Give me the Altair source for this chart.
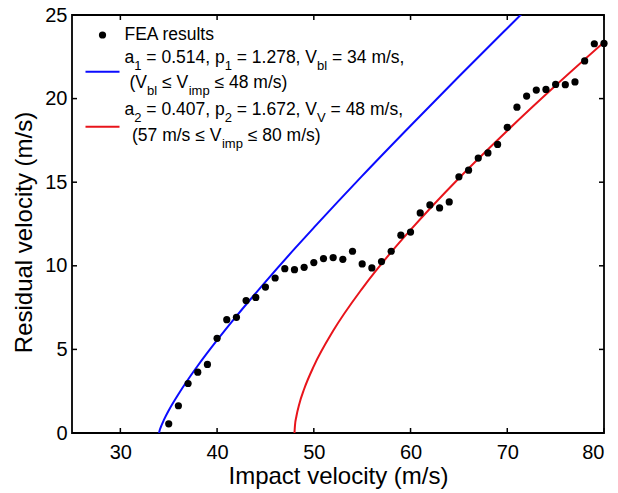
import altair as alt
import pandas as pd

# ---------------- data ----------------
fea_x = [35, 36, 37, 38, 39, 40, 41, 42, 43, 44, 45, 46, 47, 48, 49, 50, 51, 52, 53, 54, 55, 56,
         57, 58, 59, 60, 61, 62, 63, 64, 65, 66, 67, 68, 69, 70, 71, 72, 73, 74, 75, 76, 77, 78, 79, 80]
fea_y = [0.55, 1.63, 2.96, 3.64, 4.10, 5.66, 6.78, 6.92, 7.92, 8.11, 8.73, 9.27, 9.83, 9.77, 9.91,
         10.19, 10.43, 10.49, 10.39, 10.87, 10.11, 9.87, 10.25, 10.87, 11.83, 12.02, 13.16, 13.64,
         13.46, 13.82, 15.32, 15.72, 16.44, 16.75, 17.26, 18.28, 19.49, 20.15, 20.51, 20.55, 20.85,
         20.83, 21.00, 22.25, 23.28, 23.30]

blue_x = [34, 34.05, 34.2, 34.5, 35, 36, 37, 38, 40, 42, 45, 48, 50, 55, 60, 65, 70, 72]
blue_y = [0, 0.13, 0.38, 0.78, 1.35, 2.32, 3.20, 4.02, 5.55, 6.99, 9.04, 11.01, 12.28, 15.38,
          18.38, 21.32, 24.21, 25.36]

red_x = [48, 48.05, 48.2, 48.5, 49, 50, 52, 55, 58, 60, 65, 70, 75, 80]
red_y = [0, 0.44, 1.00, 1.74, 2.63, 4.00, 6.11, 8.64, 10.82, 12.15, 15.24, 18.08, 20.78, 23.37]

x_ticks = [30, 40, 50, 60, 70, 80]
y_ticks = [0, 5, 10, 15, 20, 25]

legend_lines = [
    [("a", 0), ("1", 1), (" = 0.514, p", 0), ("1", 1), (" = 1.278, V", 0), ("bl", 1), (" = 34 m/s,", 0)],
    [("(V", 0), ("bl", 1), (" \u2264 V", 0), ("imp", 1), (" \u2264 48 m/s)", 0)],
    [("a", 0), ("2", 1), (" = 0.407, p", 0), ("2", 1), (" = 1.672, V", 0), ("V", 1), (" = 48 m/s,", 0)],
    [("(57 m/s \u2264 V", 0), ("imp", 1), (" \u2264 80 m/s)", 0)],
]

# ---------------- layout ----------------
W, H = 532, 418
FONT = "Liberation Sans"
BLUE = "#0b0bff"
RED = "#e8141b"
MAIN_FS, SUB_FS, SUB_DY = 17.5, 13, 7

CW = {' ': 278, '(': 333, ')': 333, ',': 278, '.': 278, '/': 278, '=': 584, '\u2264': 584,
      'A': 667, 'E': 667, 'F': 611, 'V': 667, 'a': 556, 'b': 556, 'e': 556, 'i': 222, 'l': 222,
      'm': 833, 'p': 556, 'r': 333, 's': 500, 't': 278, 'u': 556}


def tw(s, fs):
    return sum(CW.get(c, 556) for c in s) * fs / 1000.0


xs = alt.Scale(domain=[25, 80], nice=False, zero=False)
ys = alt.Scale(domain=[0, 25], nice=False, zero=False)

x_axis = alt.Axis(values=x_ticks, title="Impact velocity (m/s)", domain=False, ticks=False, grid=False,
                  labelFont=FONT, labelFontSize=20, labelColor="black", labelPadding=9,
                  titleFont=FONT, titleFontSize=24, titleFontWeight="normal", titleColor="black",
                  titleY=50, titleBaseline="alphabetic")
y_axis = alt.Axis(values=y_ticks, title="Residual velocity (m/s)", domain=False, ticks=False, grid=False,
                  labelFont=FONT, labelFontSize=20, labelColor="black", labelPadding=5,
                  titleFont=FONT, titleFontSize=24, titleFontWeight="normal", titleColor="black",
                  titleX=-41, titleY=217, titleAlign="center", titleBaseline="alphabetic")


def X():
    return alt.X("x:Q", scale=xs, axis=x_axis)


def Y():
    return alt.Y("y:Q", scale=ys, axis=y_axis)


one = alt.Data(values=[{"k": 1}])

blue = alt.Chart(pd.DataFrame({"x": blue_x, "y": blue_y})).mark_line(
    color=BLUE, strokeWidth=2, interpolate="monotone", clip=True).encode(x=X(), y=Y())
red = alt.Chart(pd.DataFrame({"x": red_x, "y": red_y})).mark_line(
    color=RED, strokeWidth=2, interpolate="monotone", clip=True).encode(x=X(), y=Y())
pts = alt.Chart(pd.DataFrame({"x": fea_x, "y": fea_y})).mark_circle(
    size=52, color="black", opacity=1).encode(x=X(), y=Y())

xt = pd.DataFrame({"x": x_ticks})
yt = pd.DataFrame({"y": y_ticks})
tick_style = dict(color="black", strokeWidth=1.5)
ticks = [
    alt.Chart(xt).mark_rule(**tick_style).encode(x=X(), y=alt.value(H), y2=alt.value(H - 5)),
    alt.Chart(xt).mark_rule(**tick_style).encode(x=X(), y=alt.value(0), y2=alt.value(5)),
    alt.Chart(yt).mark_rule(**tick_style).encode(y=Y(), x=alt.value(0), x2=alt.value(5)),
    alt.Chart(yt).mark_rule(**tick_style).encode(y=Y(), x=alt.value(W), x2=alt.value(W - 5)),
]

# ---------------- legend ----------------
legend = []
legend.append(alt.Chart(one).mark_circle(size=52, color="black", opacity=1).encode(
    x=alt.value(30.5), y=alt.value(20)))
legend.append(alt.Chart(one).mark_text(text="FEA results", align="left", baseline="alphabetic",
                                       font=FONT, fontSize=MAIN_FS, color="black").encode(
    x=alt.value(52.5), y=alt.value(25)))
legend.append(alt.Chart(one).mark_rule(color=BLUE, strokeWidth=2).encode(
    x=alt.value(13.5), x2=alt.value(47.5), y=alt.value(56.7)))
legend.append(alt.Chart(one).mark_rule(color=RED, strokeWidth=2).encode(
    x=alt.value(13.5), x2=alt.value(47.5), y=alt.value(111.7)))

line_pos = [(52.5, 48), (57.5, 73), (52.5, 100), (60, 126)]
for segs, (x0, y0) in zip(legend_lines, line_pos):
    cx = x0
    for s, sub in segs:
        fs = SUB_FS if sub else MAIN_FS
        yy = y0 + (SUB_DY if sub else 0)
        lead = len(s) - len(s.lstrip(" "))
        txt = s.strip(" ")
        legend.append(alt.Chart(one).mark_text(text=txt, align="left", baseline="alphabetic",
                                               font=FONT, fontSize=fs, color="black").encode(
            x=alt.value(cx + tw(" " * lead, fs)), y=alt.value(yy)))
        cx += tw(s, fs)

chart = alt.layer(blue, red, pts, *ticks, *legend).properties(
    width=W, height=H, autosize="none",
    padding={"left": 72, "top": 15, "right": 14, "bottom": 60},
    background="white",
).configure_view(stroke="black", strokeWidth=1.8)

chart.save("out.html", embed_options={"renderer": "svg", "actions": False})
